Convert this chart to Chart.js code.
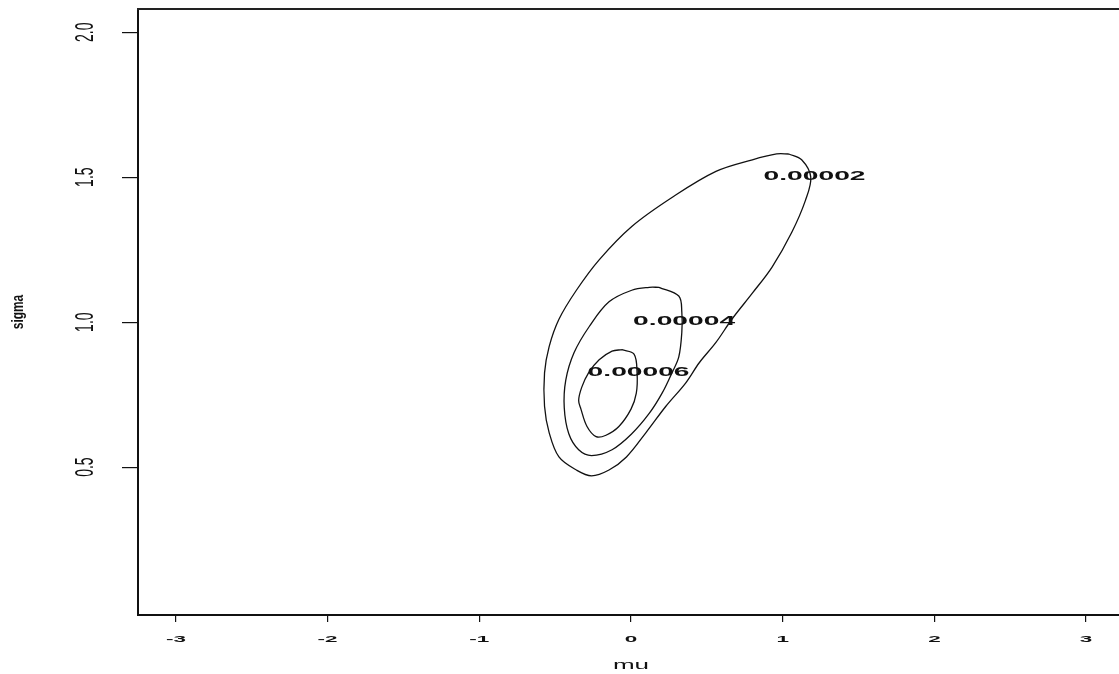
<!DOCTYPE html>
<html>
<head>
<meta charset="utf-8">
<script src="https://cdn.jsdelivr.net/npm/chart.js@4/dist/chart.umd.min.js"></script>
<style>
  html, body { margin: 0; padding: 0; background: #fff; overflow: hidden; }
  #wrap { position: relative; width: 1130px; height: 674px; }
</style>
</head>
<body>
<div id="wrap"><canvas id="c"></canvas></div>
<script>
// Axis ticks
const muTicks = [-3, -2, -1, 0, 1, 2, 3];
const sigmaTicks = [0.5, 1.0, 1.5, 2.0];

// Axis titles
const xTitle = 'mu';
const yTitle = 'sigma';

// Contour levels of the likelihood surface
const levels = ["0.00002", "0.00004", "0.00006"];

// Contour 0.00002 (closed loop)
const c1Mu = [1.04, 1.125, 1.185, 1.15, 1.06, 0.93, 0.80, 0.665, 0.56, 0.45, 0.36, 0.23, 0.10, -0.03,
  -0.145, -0.26, -0.36, -0.475, -0.54, -0.57, -0.57, -0.54, -0.475, -0.36, -0.21, 0.005, 0.27, 0.56, 0.80, 0.96, 1.04];
const c1Sigma = [1.58, 1.56, 1.50, 1.42, 1.31, 1.19, 1.10, 1.01, 0.93, 0.86, 0.79, 0.71, 0.62, 0.535,
  0.49, 0.47, 0.49, 0.535, 0.62, 0.71, 0.825, 0.915, 1.01, 1.11, 1.215, 1.33, 1.43, 1.52, 1.56, 1.58, 1.58];

// Contour 0.00004
const c2Mu = [0.185, 0.315, 0.335, 0.335, 0.315, 0.27, 0.205, 0.12, 0.005, -0.125, -0.26, -0.345,
  -0.41, -0.44, -0.43, -0.375, -0.275, -0.145, 0.005, 0.12, 0.185];
const c2Sigma = [1.12, 1.09, 1.035, 0.965, 0.88, 0.825, 0.755, 0.685, 0.615, 0.56, 0.54, 0.56,
  0.615, 0.705, 0.80, 0.895, 0.985, 1.07, 1.11, 1.12, 1.12];

// Contour 0.00006
const c3Mu = [-0.06, 0.02, 0.04, 0.035, 0.0, -0.08, -0.165, -0.23, -0.29, -0.33, -0.345, -0.325,
  -0.28, -0.21, -0.125, -0.06];
const c3Sigma = [0.905, 0.89, 0.825, 0.755, 0.70, 0.64, 0.61, 0.605, 0.64, 0.70, 0.73, 0.775,
  0.825, 0.87, 0.90, 0.905];

// Where each level label sits on its contour
const labelMu = [1.21, 0.35, 0.05];
const labelSigma = [1.50, 1.00, 0.825];

const toPoints = (xs, ys) => xs.map((x, i) => ({ x: x, y: ys[i] }));

const lineStyle = {
  showLine: true, pointRadius: 0, borderColor: '#111', borderWidth: 1.3,
  tension: 0.35, fill: false
};

// Lettering with its own aspect: sx stretches along the reading direction
function drawText(ctx, text, x, y, font, sx, rot) {
  ctx.save();
  ctx.translate(x, y);
  if (rot) ctx.rotate(rot);
  ctx.scale(sx, 1);
  ctx.font = font;
  ctx.fillStyle = '#111';
  ctx.textAlign = 'center';
  ctx.textBaseline = 'middle';
  ctx.fillText(text, 0, 0);
  ctx.restore();
}

const SANS = '"Liberation Sans", Arial, sans-serif';

const annotate = {
  id: 'annotate',
  afterDraw(chart) {
    const { ctx, chartArea, scales } = chart;
    // frame top edge
    ctx.save();
    ctx.strokeStyle = '#222';
    ctx.lineWidth = 2;
    ctx.beginPath();
    ctx.moveTo(chartArea.left - 1, chartArea.top);
    ctx.lineTo(chartArea.right + 2, chartArea.top);
    ctx.stroke();
    ctx.restore();

    // mu tick labels: short, wide figures
    scales.x.ticks.forEach(t => {
      const px = scales.x.getPixelForValue(t.value);
      drawText(ctx, String(t.value), px, 640, 'bold 9px ' + SANS, 2.5, 0);
    });
    drawText(ctx, xTitle, (chartArea.left + chartArea.right) / 2, 665, '13px ' + SANS, 2.0, 0);

    // sigma tick labels: tall, narrow figures, reading upwards
    scales.y.ticks.forEach(t => {
      const py = scales.y.getPixelForValue(t.value);
      drawText(ctx, t.value.toFixed(1), 86, py, '25px ' + SANS, 0.56, -Math.PI / 2);
    });
    drawText(ctx, yTitle, 18, (chartArea.top + chartArea.bottom) / 2, 'bold 17px ' + SANS, 0.7, -Math.PI / 2);

    // contour level labels
    levels.forEach((lv, i) => {
      const px = scales.x.getPixelForValue(labelMu[i]);
      const py = scales.y.getPixelForValue(labelSigma[i]);
      drawText(ctx, lv, px, py, 'bold 12px ' + SANS, 2.35, 0);
    });
  }
};

new Chart(document.getElementById('c'), {
  type: 'scatter',
  data: {
    datasets: [
      Object.assign({ label: levels[0], data: toPoints(c1Mu, c1Sigma) }, lineStyle),
      Object.assign({ label: levels[1], data: toPoints(c2Mu, c2Sigma) }, lineStyle),
      Object.assign({ label: levels[2], data: toPoints(c3Mu, c3Sigma) }, lineStyle)
    ]
  },
  options: {
    responsive: true,
    maintainAspectRatio: false,
    animation: false,
    layout: { padding: { top: 9, right: 6, bottom: 0, left: 0 } },
    plugins: { legend: { display: false }, tooltip: { enabled: false } },
    scales: {
      x: {
        type: 'linear', position: 'bottom', min: -3.25, max: 3.25,
        afterBuildTicks: s => { s.ticks = muTicks.map(v => ({ value: v })); },
        afterFit: s => { s.height = 59; s.paddingLeft = 0; s.paddingRight = 0; },
        ticks: { display: false },
        grid: { drawOnChartArea: false, drawTicks: true, tickLength: 7, color: '#111', lineWidth: 1.2 },
        border: { display: true, color: '#111', width: 2 }
      },
      y: {
        type: 'linear', position: 'left', min: -0.01, max: 2.08,
        afterBuildTicks: s => { s.ticks = sigmaTicks.map(v => ({ value: v })); },
        afterFit: s => { s.width = 138; s.paddingTop = 0; s.paddingBottom = 0; },
        ticks: { display: false },
        grid: { drawOnChartArea: false, drawTicks: true, tickLength: 16, color: '#111', lineWidth: 1.2 },
        border: { display: true, color: '#111', width: 2 }
      }
    }
  },
  plugins: [annotate]
});
</script>
</body>
</html>
